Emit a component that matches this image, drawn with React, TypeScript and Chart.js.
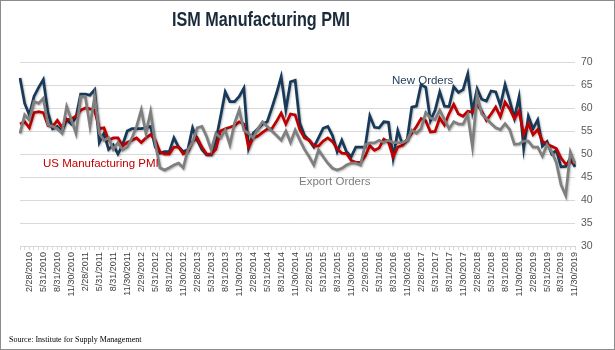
import React, { useEffect, useRef } from "react";
import { Chart, registerables } from "chart.js";

Chart.register(...registerables);

// ---------- data ----------
const FIRST_CATEGORY = "12/31/2009";
const YEARS = [2010, 2011, 2012, 2013, 2014, 2015, 2016, 2017, 2018, 2019];
const MONTH_END_DAYS = [31, 28, 31, 30, 31, 30, 31, 31, 30, 31, 30, 31];
const LEAP_YEARS = [2012, 2016];
const LAST_MONTH_2019 = 11;

const TICK_LABELS = [
  "2/28/2010", "5/31/2010", "8/31/2010", "11/30/2010",
  "2/28/2011", "5/31/2011", "8/31/2011", "11/30/2011",
  "2/29/2012", "5/31/2012", "8/31/2012", "11/30/2012",
  "2/28/2013", "5/31/2013", "8/31/2013", "11/30/2013",
  "2/28/2014", "5/31/2014", "8/31/2014", "11/30/2014",
  "2/28/2015", "5/31/2015", "8/31/2015", "11/30/2015",
  "2/29/2016", "5/31/2016", "8/31/2016", "11/30/2016",
  "2/28/2017", "5/31/2017", "8/31/2017", "11/30/2017",
  "2/28/2018", "5/31/2018", "8/31/2018", "11/30/2018",
  "2/28/2019", "5/31/2019", "8/31/2019", "11/30/2019",
];

const PMI = [
  56.5,
  57.0, 55.7, 59.0, 59.2, 59.0, 56.2, 56.0, 57.3, 55.8, 57.5, 57.6, 58.3,
  59.5, 60.0, 59.8, 59.5, 55.5, 55.7, 53.0, 53.5, 53.5, 51.8, 52.5, 53.0,
  53.5, 52.5, 53.5, 54.2, 53.0, 50.5, 50.0, 50.0, 51.5, 51.5, 50.0, 50.5,
  52.7, 53.5, 51.5, 50.0, 50.0, 51.0, 55.0, 55.5, 55.8, 56.2, 57.0, 56.5,
  51.5, 53.5, 53.9, 54.7, 55.4, 55.5, 57.1, 58.9, 56.5, 58.7, 58.5, 55.3,
  53.5, 53.0, 51.8, 51.7, 52.8, 53.5, 52.7, 51.1, 50.2, 50.1, 48.6, 48.2,
  48.2, 49.5, 51.8, 50.8, 51.3, 53.2, 52.6, 49.4, 51.5, 51.9, 53.2, 54.5,
  56.0, 57.7, 57.2, 54.8, 54.9, 57.8, 56.3, 58.8, 60.8, 58.7, 58.2, 59.3,
  59.1, 60.8, 59.3, 57.3, 58.7, 60.2, 58.1, 61.3, 59.8, 57.7, 59.3, 54.3,
  56.6, 54.2, 55.3, 52.8, 52.1, 51.7, 51.2, 49.1, 47.8, 48.3, 48.1,
];

const NEW_ORDERS = [
  66.5,
  61.0, 58.5, 62.5, 64.5, 66.2, 59.0, 55.5, 56.0, 55.0, 57.5, 56.5, 58.0,
  63.0, 63.0, 62.8, 64.0, 52.5, 54.5, 51.0, 52.0, 50.0, 52.0, 55.0, 55.5,
  55.5, 55.5, 55.7, 56.0, 51.5, 50.2, 50.5, 50.5, 53.5, 51.5, 50.5, 51.0,
  55.7, 53.0, 51.0, 49.8, 49.8, 53.0, 58.1, 63.5, 61.4, 61.4, 62.5, 64.3,
  51.3, 54.5, 55.5, 56.5, 57.0, 60.0, 63.2, 66.8, 59.6, 65.7, 66.0, 56.7,
  54.0, 53.0, 51.5, 53.5, 55.6, 56.0, 54.0, 50.5, 53.0, 50.5, 49.4, 51.5,
  51.5, 51.5, 58.3, 55.8, 55.7, 57.0, 56.9, 49.1, 55.1, 52.1, 53.0, 60.2,
  60.4, 65.1, 64.5, 57.2, 59.5, 63.5, 60.4, 60.3, 64.6, 63.4, 64.0, 67.4,
  59.2, 64.2, 61.9, 61.5, 63.7, 63.5, 60.5, 65.1, 61.6, 57.8, 62.4, 51.2,
  58.2, 55.5, 57.4, 51.7, 52.7, 50.0, 50.8, 47.2, 47.3, 49.1, 47.2,
];

const EXPORT_ORDERS = [
  54.5,
  58.5, 57.4, 61.4, 61.0, 62.1, 56.3, 56.0, 55.5, 54.5, 60.3, 57.5, 54.5,
  62.5, 62.5, 56.0, 62.5, 54.5, 53.0, 53.5, 51.0, 52.5, 50.9, 51.5, 53.5,
  56.0, 59.6, 54.5, 59.2, 52.4, 47.0, 46.5, 47.0, 47.6, 48.0, 47.0, 50.9,
  52.5, 55.7, 56.0, 53.8, 50.9, 54.5, 53.5, 55.2, 52.0, 56.7, 59.6, 55.2,
  54.5, 53.5, 55.5, 57.0, 56.0, 55.0, 54.0, 53.0, 55.0, 52.5, 55.2, 53.0,
  51.0, 49.4, 47.6, 50.9, 49.4, 48.0, 46.9, 46.5, 46.9, 47.6, 48.0, 48.0,
  47.6, 52.0, 52.4, 52.4, 53.0, 52.5, 53.0, 52.5, 52.5, 52.5, 53.0, 55.2,
  54.5, 55.5, 59.0, 57.8, 57.5, 59.5, 57.5, 55.5, 57.0, 56.5, 56.5, 58.5,
  51.6, 62.8, 58.7, 57.7, 56.6, 55.7, 55.3, 56.6, 55.3, 52.1, 52.2, 52.8,
  52.8, 51.5, 51.5, 49.5, 52.0, 50.5, 48.1, 43.3, 41.0, 50.4, 47.9,
];

const Y_MIN = 30;
const Y_MAX = 70;
const Y_STEP = 5;

const TITLE = "ISM Manufacturing PMI";
const SOURCE = "Source: Institute for Supply Management";
const LABEL_NEW = "New Orders";
const LABEL_PMI = "US Manufacturing PMI";
const LABEL_EXPORT = "Export Orders";

// categories (month-end dates)
const CATEGORIES: string[] = [FIRST_CATEGORY];
YEARS.forEach((y) => {
  const months = y === 2019 ? LAST_MONTH_2019 : 12;
  for (let m = 1; m <= months; m++) {
    let d = MONTH_END_DAYS[m - 1];
    if (m === 2 && LEAP_YEARS.includes(y)) d = 29;
    CATEGORIES.push(`${m}/${d}/${y}`);
  }
});
const TICK_SET = new Set(TICK_LABELS);

const SANS = '"Liberation Sans", Arial, Helvetica, sans-serif';

const textPlugin = {
  id: "textPlugin",
  beforeDraw(chart: any) {
    const ctx = chart.ctx;
    ctx.save();
    ctx.fillStyle = "#ffffff";
    ctx.fillRect(0, 0, chart.width, chart.height);
    ctx.restore();
  },
  beforeDatasetDraw(chart: any) {
    const ctx = chart.ctx;
    ctx.save();
    ctx.shadowColor = "rgba(0,0,0,0.28)";
    ctx.shadowBlur = 2;
    ctx.shadowOffsetX = 1;
    ctx.shadowOffsetY = 1;
  },
  afterDatasetDraw(chart: any) {
    chart.ctx.restore();
  },
  afterDraw(chart: any) {
    const ctx = chart.ctx;
    ctx.save();
    // title
    ctx.font = `bold 20px ${SANS}`;
    ctx.fillStyle = "#1B2A3A";
    ctx.textAlign = "center";
    ctx.textBaseline = "alphabetic";
    const w = ctx.measureText(TITLE).width;
    ctx.save();
    ctx.translate(261, 26);
    ctx.scale(178 / w, 1);
    ctx.fillText(TITLE, 0, 0);
    ctx.restore();

    // series labels
    ctx.textAlign = "left";
    ctx.font = `11.5px ${SANS}`;
    ctx.fillStyle = "#1F3B5A";
    ctx.fillText(LABEL_NEW, 392, 84);
    ctx.fillStyle = "#C00000";
    ctx.fillText(LABEL_PMI, 43, 167);
    ctx.fillStyle = "#7F7F7F";
    ctx.fillText(LABEL_EXPORT, 299, 185);

    // source
    ctx.font = `8px "Liberation Serif", "Times New Roman", serif`;
    ctx.fillStyle = "#000000";
    ctx.fillText(SOURCE, 9, 342);

    // frame
    ctx.strokeStyle = "#8C8C8C";
    ctx.lineWidth = 1;
    ctx.strokeRect(0.5, 0.5, chart.width - 1, chart.height - 1);
    ctx.restore();
  },
};

export default function App() {
  const ref = useRef<HTMLCanvasElement>(null);

  useEffect(() => {
    document.body.style.margin = "0";
    const chart = new Chart(ref.current as HTMLCanvasElement, {
      type: "line",
      data: {
        labels: CATEGORIES,
        datasets: [
          {
            label: "Export Orders",
            data: EXPORT_ORDERS,
            borderColor: "#7F7F7F",
            borderWidth: 2.75,
            pointRadius: 0,
            tension: 0,
            order: 1,
          },
          {
            label: "US Manufacturing PMI",
            data: PMI,
            borderColor: "#C00000",
            borderWidth: 2.75,
            pointRadius: 0,
            tension: 0,
            order: 2,
          },
          {
            label: "New Orders",
            data: NEW_ORDERS,
            borderColor: "#183A5A",
            borderWidth: 2.75,
            pointRadius: 0,
            tension: 0,
            order: 3,
          },
        ],
      },
      options: {
        responsive: true,
        maintainAspectRatio: false,
        animation: false,
        devicePixelRatio: 1,
        layout: { padding: { top: 62, left: 20, right: 0, bottom: 0 } },
        plugins: {
          legend: { display: false },
          tooltip: { enabled: false },
          title: { display: false },
        },
        scales: {
          x: {
            type: "category",
            offset: false,
            grid: {
              drawOnChartArea: false,
              drawTicks: true,
              tickLength: 4,
              color: "#D9D9D9",
            },
            border: { display: true, color: "#D9D9D9" },
            ticks: {
              autoSkip: false,
              maxRotation: 90,
              minRotation: 90,
              padding: 2,
              color: "#404040",
              font: { family: SANS, size: 9 },
              callback: (_v: any, i: number) =>
                TICK_SET.has(CATEGORIES[i]) ? CATEGORIES[i] : "",
            },
            afterFit: (s: any) => {
              s.height = 104;
            },
          },
          y: {
            position: "right",
            min: Y_MIN,
            max: Y_MAX,
            ticks: {
              stepSize: Y_STEP,
              padding: 6,
              color: "#595959",
              font: { family: SANS, size: 10.5 },
            },
            grid: { color: "#D9D9D9", drawTicks: false },
            border: { display: false },
            afterFit: (s: any) => {
              s.width = 40;
            },
          },
        },
      },
      plugins: [textPlugin],
    } as any);
    return () => chart.destroy();
  }, []);

  return (
    <div style={{ width: 615, height: 350, position: "relative" }}>
      <canvas ref={ref} />
    </div>
  );
}
